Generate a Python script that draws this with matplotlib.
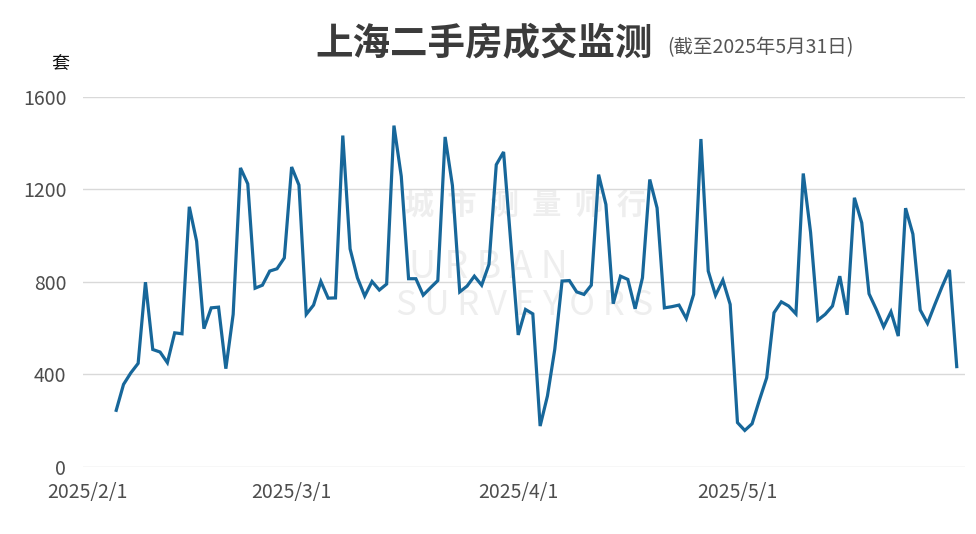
import numpy as np
import pandas as pd
import matplotlib
matplotlib.use("Agg")
import matplotlib.pyplot as plt
import matplotlib.dates as mdates

plt.rcParams['font.family'] = ['Noto Sans CJK SC', 'DejaVu Sans']

# daily second-hand housing deals in Shanghai, 2025/2/5 - 2025/5/31
feb = [245, 357, 407, 448, 799, 508, 497, 451, 580, 576, 1125, 976, 598, 688,
       691, 425, 660, 1293, 1224, 773, 786, 847, 857, 904]
mar = [1297, 1219, 660, 700, 802, 730, 731, 1433, 943, 818, 739, 802, 765, 791,
       1476, 1257, 814, 814, 743, 775, 806, 1427, 1217, 757, 782, 825, 786, 876,
       1307, 1362, 965]
apr = [571, 681, 662, 177, 307, 508, 804, 806, 757, 746, 786, 1264, 1135, 706,
       825, 811, 684, 818, 1243, 1120, 688, 693, 700, 642, 746, 1418, 847, 742,
       808, 703]
may = [192, 158, 187, 289, 386, 667, 714, 696, 662, 1269, 1015, 635, 660, 696,
       825, 658, 1164, 1056, 749, 681, 606, 671, 566, 1119, 1007, 679, 621, 702,
       780, 852, 434]
deals = feb + mar + apr + may
dates = pd.date_range('2025-02-05', periods=len(deals), freq='D')

tick_dates = pd.to_datetime(['2025-02-01', '2025-03-01', '2025-04-01', '2025-05-01'])
tick_labels = ['2025/2/1', '2025/3/1', '2025/4/1', '2025/5/1']
y_ticks = [0, 400, 800, 1200, 1600]

fig = plt.figure(figsize=(9.76, 5.34), dpi=100)
ax = fig.add_axes([0.085, 0.1255, 0.9035, 0.693])

# faint watermark
wm = '#eeeeee'
ax.text(0.365, 0.685, '城  市  测  量  师  行', transform=ax.transAxes, fontsize=21,
        color=wm, fontweight='bold', zorder=0)
ax.text(0.37, 0.51, 'U R B A N', transform=ax.transAxes, fontsize=27,
        color=wm, zorder=0)
ax.text(0.355, 0.41, 'S U R V E Y O R S', transform=ax.transAxes, fontsize=25,
        color=wm, zorder=0)

ax.plot(dates, deals, color='#17679a', lw=2.3, zorder=3, solid_joinstyle='miter')

start = pd.Timestamp('2025-02-01')
ax.set_xlim(mdates.date2num(start) - 0.55, mdates.date2num(start) + 120.1)
ax.set_ylim(0, 1600)
ax.set_yticks(y_ticks)
ax.set_xticks(tick_dates)
ax.set_xticklabels(tick_labels)
ax.grid(axis='y', color='#d9d9d9', lw=1)
ax.set_axisbelow(True)
for s in ax.spines.values():
    s.set_visible(False)
ax.tick_params(axis='both', length=0, labelsize=14, colors='#4d4d4d')
ax.tick_params(axis='x', pad=11)
ax.tick_params(axis='y', pad=12)

fig.text(0.496, 0.918, '上海二手房成交监测', fontsize=27, fontweight='heavy',
         color='#3b3b3b', ha='center', va='center')
fig.text(0.684, 0.91, '(截至2025年5月31日)', fontsize=14, color='#555555',
         ha='left', va='center')
fig.text(0.062, 0.88, '套', fontsize=13, color='#111111', ha='center', va='center')

fig.savefig('out.png', dpi=100)
